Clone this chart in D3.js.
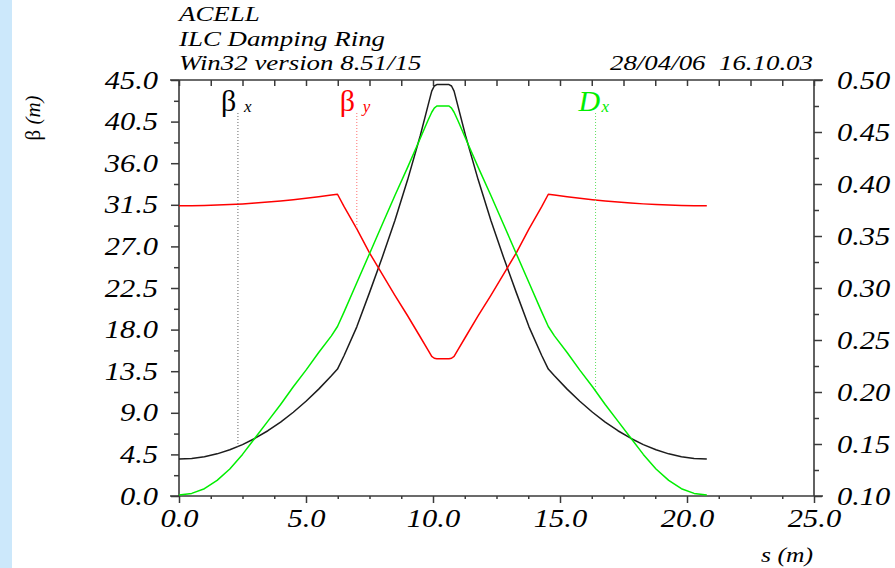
<!DOCTYPE html>
<html>
<head>
<meta charset="utf-8">
<script src="https://cdn.jsdelivr.net/npm/d3@7"></script>
<style>
  html, body { margin: 0; padding: 0; background: #ffffff; }
  svg { display: block; }
</style>
</head>
<body>
<svg id="chart" width="895" height="568"></svg>
<script>
// Lattice functions of one ILC damping-ring arc cell (ACELL)
const sPos = [0, 0.5, 1, 1.5, 2, 2.5, 3, 3.5, 4, 4.5, 5, 5.5, 6, 6.24,
  6.5, 7, 7.5, 8, 8.5, 9, 9.5, 9.8, 9.95, 10.05, 10.15, 10.39,
  10.63, 10.73, 10.83, 10.98, 11.28, 11.78, 12.28, 12.78, 13.28, 13.78, 14.28, 14.54,
  14.78, 15.28, 15.78, 16.28, 16.78, 17.28, 17.78, 18.28, 18.78, 19.28, 19.78, 20.28, 20.78];

const betaX = [4.00, 4.06, 4.25, 4.56, 5.00, 5.56, 6.25, 7.06, 8.00, 9.06, 10.25, 11.56, 13.00, 13.73,
  15.2, 18.3, 22.0, 25.8, 29.8, 34.2, 39.0, 42.2, 43.8, 44.35, 44.5, 44.5,
  44.5, 44.35, 43.8, 42.2, 39.0, 34.2, 29.8, 25.8, 22.0, 18.3, 15.2, 13.73,
  13.00, 11.56, 10.25, 9.06, 8.00, 7.06, 6.25, 5.56, 5.00, 4.56, 4.25, 4.06, 4.00];

const betaY = [31.40, 31.41, 31.43, 31.47, 31.53, 31.60, 31.69, 31.79, 31.91, 32.04, 32.20, 32.36, 32.55, 32.64,
  31.3, 28.9, 26.3, 24.0, 21.7, 19.5, 17.2, 15.8, 15.1, 14.9, 14.85, 14.85,
  14.85, 14.9, 15.1, 15.8, 17.2, 19.5, 21.7, 24.0, 26.3, 28.9, 31.3, 32.64,
  32.55, 32.36, 32.20, 32.04, 31.91, 31.79, 31.69, 31.60, 31.53, 31.47, 31.43, 31.41, 31.40];

const dispX = [0.101, 0.1025, 0.107, 0.115, 0.126, 0.140, 0.156, 0.172, 0.188, 0.205, 0.221, 0.238, 0.254, 0.263,
  0.277, 0.305, 0.333, 0.361, 0.389, 0.416, 0.444, 0.461, 0.469, 0.473, 0.475, 0.475,
  0.475, 0.473, 0.469, 0.461, 0.444, 0.416, 0.389, 0.361, 0.333, 0.305, 0.277, 0.263,
  0.254, 0.238, 0.221, 0.205, 0.188, 0.172, 0.156, 0.140, 0.126, 0.115, 0.107, 0.1025, 0.101];

// Axis ticks
const xTicks = [0, 5, 10, 15, 20, 25];
const xTickLabels = ["0.0", "5.0", "10.0", "15.0", "20.0", "25.0"];
const betaTicks = [0, 4.5, 9, 13.5, 18, 22.5, 27, 31.5, 36, 40.5, 45];
const betaTickLabels = ["0.0", "4.5", "9.0", "13.5", "18.0", "22.5", "27.0", "31.5", "36.0", "40.5", "45.0"];
const dispTicks = [0.10, 0.15, 0.20, 0.25, 0.30, 0.35, 0.40, 0.45, 0.50];
const dispTickLabels = ["0.10", "0.15", "0.20", "0.25", "0.30", "0.35", "0.40", "0.45", "0.50"];

// Series labels: name, subscript, colour, s position of the pointer line, axis
const seriesLabels = [
  { main: "β", sub: "x", color: "#000000", dot: "#666666", s: 2.32, axis: "beta", values: betaX, italic: false },
  { main: "β", sub: "y", color: "#ff0000", dot: "#ff7070", s: 7.0, axis: "beta", values: betaY, italic: false },
  { main: "D", sub: "x", color: "#00ee00", dot: "#60e060", s: 16.4, axis: "disp", values: dispX, italic: true }
];

const SX = 1.22;  // horizontal stretch of the tick lettering
const SXH = 1.28; // horizontal stretch of the header lettering
const SERIF = "'Liberation Serif', 'Times New Roman', serif";

const svg = d3.select("#chart").attr("font-family", SERIF);
const W = 895, H = 568;
const pLeft = 179, pRight = 814, pTop = 80, pBottom = 496;

svg.append("rect").attr("x", 0).attr("y", 0).attr("width", W).attr("height", H).attr("fill", "#ffffff");
svg.append("rect").attr("x", 0).attr("y", 0).attr("width", 12).attr("height", H).attr("fill", "#cce8fb");

const x = d3.scaleLinear().domain([0, 25]).range([pLeft, pRight]);
const yB = d3.scaleLinear().domain([0, 45]).range([pBottom, pTop]);
const yD = d3.scaleLinear().domain([0.1, 0.5]).range([pBottom, pTop]);

const axisColor = "#3a3a3a";

function stretchTexts(g) {
  g.selectAll("text").each(function () {
    const t = d3.select(this);
    const tx = +t.attr("x") || 0, ty = +t.attr("y") || 0;
    t.attr("x", null).attr("y", null)
     .attr("transform", `translate(${tx},${ty}) scale(${SX},1)`);
  });
}
function styleAxis(g) {
  g.attr("font-family", SERIF);
  g.select(".domain").remove();
  g.selectAll("line").attr("stroke", axisColor).attr("stroke-width", 1.5);
  g.selectAll("text").attr("fill", "#000").attr("font-size", 25)
   .attr("font-style", "italic").style("font-family", SERIF);
}

// minor tick positions
const xMinor = d3.range(0, 25.001, 1.25).filter(v => xTicks.indexOf(v) < 0);
const xTop = d3.range(0, 25.001, 1.25);
const bMinor = betaTicks.slice(0, -1).map(v => v + 2.25);
const dMinor = dispTicks.slice(0, -1).map(v => v + 0.025);

// bottom axis
const gBot = svg.append("g").attr("transform", `translate(0,${pBottom})`)
  .call(d3.axisBottom(x).tickValues(xTicks).tickSize(7).tickPadding(6)
    .tickFormat((d, i) => xTickLabels[i]));
styleAxis(gBot); stretchTexts(gBot);
const gBotMinor = svg.append("g").attr("transform", `translate(0,${pBottom})`)
  .call(d3.axisBottom(x).tickValues(xMinor).tickSize(3).tickFormat(""));
styleAxis(gBotMinor);

// top ticks (inward)
const gTop = svg.append("g").attr("transform", `translate(0,${pTop})`)
  .call(d3.axisBottom(x).tickValues(xTop).tickSize(6).tickFormat(""));
styleAxis(gTop);

// left axis
const gLeft = svg.append("g").attr("transform", `translate(${pLeft},0)`)
  .call(d3.axisLeft(yB).tickValues(betaTicks).tickSize(8).tickPadding(13)
    .tickFormat((d, i) => betaTickLabels[i]));
styleAxis(gLeft); stretchTexts(gLeft);
const gLeftMinor = svg.append("g").attr("transform", `translate(${pLeft},0)`)
  .call(d3.axisLeft(yB).tickValues(bMinor).tickSize(5).tickFormat(""));
styleAxis(gLeftMinor);

// right axis
const gRight = svg.append("g").attr("transform", `translate(${pRight},0)`)
  .call(d3.axisRight(yD).tickValues(dispTicks).tickSize(8).tickPadding(15)
    .tickFormat((d, i) => dispTickLabels[i]));
styleAxis(gRight); stretchTexts(gRight);
const gRightMinor = svg.append("g").attr("transform", `translate(${pRight},0)`)
  .call(d3.axisRight(yD).tickValues(dMinor).tickSize(5).tickFormat(""));
styleAxis(gRightMinor);

// frame lines
const frame = svg.append("g").attr("stroke", axisColor).attr("stroke-width", 1.6);
frame.append("line").attr("x1", pLeft - 9).attr("x2", pRight + 9).attr("y1", pTop).attr("y2", pTop);
frame.append("line").attr("x1", pLeft - 9).attr("x2", pRight + 9).attr("y1", pBottom).attr("y2", pBottom);
frame.append("line").attr("x1", pLeft).attr("x2", pLeft).attr("y1", pTop).attr("y2", pBottom);
frame.append("line").attr("x1", pRight).attr("x2", pRight).attr("y1", pTop).attr("y2", pBottom);

// curves
const pts = (vals, sc) => sPos.map((s, i) => [x(s), sc(vals[i])]);
const line = d3.line().curve(d3.curveLinear);
seriesLabels.forEach(sr => {
  const sc = sr.axis === "beta" ? yB : yD;
  svg.append("path").attr("d", line(pts(sr.values, sc)))
    .attr("fill", "none").attr("stroke", sr.color === "#000000" ? "#1c1c1c" : sr.color)
    .attr("stroke-width", 1.5).attr("stroke-linejoin", "round");
});

// helper for serif text
function serifText(parent) {
  return parent.append("text").style("font-family", SERIF).attr("font-family", SERIF);
}

// series labels with dotted pointer lines down to their curve
seriesLabels.forEach(sr => {
  const sc = sr.axis === "beta" ? yB : yD;
  const v = d3.scaleLinear().domain(sPos).range(sr.values)(sr.s);
  const lx = x(sr.s);
  svg.append("line").attr("x1", lx).attr("x2", lx).attr("y1", 113).attr("y2", sc(v))
    .attr("stroke", sr.dot).attr("stroke-width", 1).attr("stroke-dasharray", "1,2");
  serifText(svg).attr("transform", `translate(${lx - 17},111)`)
    .attr("font-size", 30).attr("font-style", sr.italic ? "italic" : "normal")
    .attr("fill", sr.color).text(sr.main);
  serifText(svg).attr("transform", `translate(${lx + 6},112)`)
    .attr("font-size", 17).attr("font-style", "italic")
    .attr("fill", sr.color).text(sr.sub);
});

// header lines
const header = ["ACELL", "ILC Damping Ring", "Win32 version 8.51/15"];
const headerY = [21, 46, 70];
header.forEach((t, i) => {
  serifText(svg).attr("transform", `translate(179,${headerY[i]}) scale(${SXH},1)`)
    .attr("font-size", 21).attr("font-style", "italic").attr("fill", "#000").text(t);
});
serifText(svg).attr("transform", `translate(813,70) scale(${SXH},1)`)
  .attr("text-anchor", "end").attr("font-size", 21).attr("font-style", "italic")
  .attr("fill", "#000").attr("xml:space", "preserve").style("white-space", "pre")
  .text("28/04/06  16.10.03");

// axis titles
serifText(svg).attr("transform", `translate(813,562) scale(${SX},1)`)
  .attr("text-anchor", "end").attr("font-size", 21).attr("font-style", "italic")
  .attr("fill", "#000").text("s (m)");
const yt = serifText(svg).attr("transform", `translate(40,118) rotate(-90)`)
  .attr("text-anchor", "middle").attr("font-size", 21).attr("fill", "#000")
  .style("white-space", "pre");
yt.append("tspan").text("β ");
yt.append("tspan").attr("font-style", "italic").text("(m)");
</script>
</body>
</html>
